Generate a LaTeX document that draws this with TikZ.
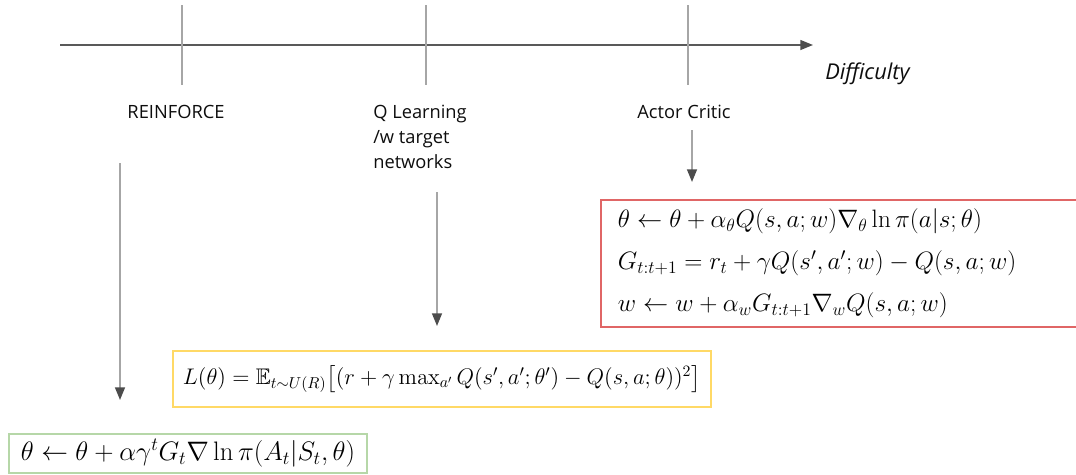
\RequirePackage{fix-cm}
\documentclass[tikz,border=0pt]{standalone}
\usepackage{amsmath}
\usepackage{amssymb}
\usepackage[no-math]{fontspec}
\newfontfamily\labelfont{Open Sans}
\usetikzlibrary{arrows.meta}

\definecolor{acred}{HTML}{E06666}
\definecolor{qyellow}{HTML}{FFD966}
\definecolor{rfgreen}{HTML}{B6D7A8}

\begin{document}
\begin{tikzpicture}[
    x=0.025cm, y=-0.025cm,
    lbl/.style={font=\labelfont\fontsize{13}{17.7}\selectfont, text=black!95,
                align=left, inner sep=0pt},
    tick/.style={draw=black!35, line width=1.2pt},
    flow/.style={draw=black!35, line width=1.3pt,
                 -{Triangle[length=9pt,width=7pt,color=black!70]}},
    eqbox/.style={rectangle, draw, line width=1.3pt, anchor=north west,
                  align=left, inner ysep=0pt},
  ]
  \useasboundingbox (0,0) rectangle (1076,474);

  %% ===== difficulty axis =====
  \coordinate (axstart) at (60,45);
  \coordinate (axend)   at (813,45);
  \draw[black!65, line width=1.2pt,
        -{Triangle[length=9pt,width=7pt,color=black!70]}] (axstart) -- (axend);
  \node[lbl, font=\labelfont\itshape\fontsize{15.5}{18}\selectfont,
        anchor=west] (diff) at (825,74) {Difficulty};

  %% ticks
  \foreach \tx/\tn in {182/trf, 426/tq, 688/tac} {
    \coordinate (\tn top) at (\tx,5);
    \coordinate (\tn bot) at (\tx,85);
    \draw[tick] (\tn top) -- (\tn bot);
  }

  %% ===== algorithm labels =====
  \node[lbl] (rf) at (176,112) {REINFORCE};
  \node[lbl, anchor=north west] (ql) at (373,105) {Q Learning\\/w target\\networks};
  \node[lbl] (ac) at (684,112) {Actor Critic};

  %% ===== update rules =====
  \node[eqbox, draw=acred, minimum width=12.5cm, minimum height=3.175cm,
        inner xsep=0.425cm, text width=11.65cm,
        font=\fontsize{17.9}{30}\selectfont] (acbox) at (600,199)
    {$\theta \leftarrow \theta + \alpha_\theta Q(s,a;w)\nabla_\theta \ln \pi(a|s;\theta)$\\
     $G_{t:t+1} = r_t + \gamma Q(s',a';w) - Q(s,a;w)$\\
     $w \leftarrow w + \alpha_w G_{t:t+1} \nabla_w Q(s,a;w)$\\[-6pt]};

  \node[eqbox, draw=qyellow, minimum height=1.4cm, inner xsep=0.25cm,
        font=\fontsize{16.05}{19}\selectfont] (qbox) at (172,350)
    {$L(\theta) = \mathbb{E}_{t\sim U(R)}\big[(r + \gamma \max_{a'} Q(s',a';\theta') - Q(s,a;\theta))^2\big]$};

  \node[eqbox, draw=rfgreen, minimum height=0.975cm, inner xsep=0.3cm,
        font=\fontsize{19}{23}\selectfont] (rfbox) at (8,433)
    {$\theta \leftarrow \theta + \alpha \gamma^t G_t \nabla \ln \pi(A_t|S_t,\theta)$};

  %% ===== arrows to the rules =====
  \coordinate (rfa) at (120,163);
  \coordinate (rfb) at (120,400);
  \coordinate (qa)  at (437,192);
  \coordinate (qb)  at (437,326);
  \coordinate (aca) at (692,130);
  \coordinate (acb) at (692,182);
  \draw[flow] (rfa) -- (rfb);
  \draw[flow] (qa) -- (qb);
  \draw[flow] (aca) -- (acb);

\end{tikzpicture}
\end{document}
